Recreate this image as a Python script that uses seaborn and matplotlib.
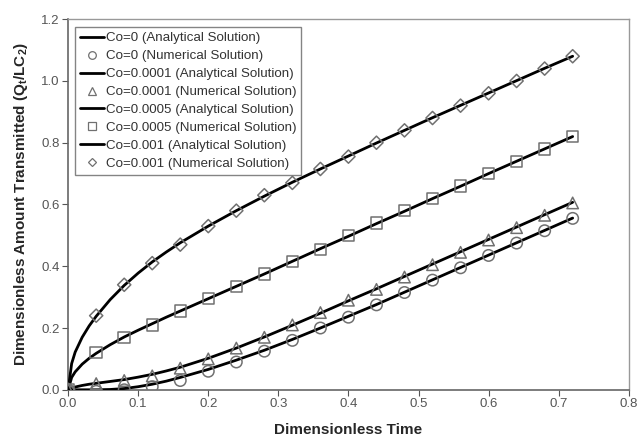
import numpy as np
import pandas as pd
import matplotlib
matplotlib.use("Agg")
import matplotlib.pyplot as plt
import seaborn as sns

# ---- data ----
t_num = [0.0, 0.04, 0.08, 0.12, 0.16, 0.20, 0.24, 0.28, 0.32, 0.36,
         0.40, 0.44, 0.48, 0.52, 0.56, 0.60, 0.64, 0.68, 0.72]
num_co0 = [0.0, -0.005, 0.0, 0.01, 0.03, 0.06, 0.09, 0.125, 0.16, 0.20,
           0.235, 0.275, 0.315, 0.355, 0.395, 0.435, 0.475, 0.515, 0.555]
num_co1e4 = [0.0, 0.02, 0.03, 0.045, 0.07, 0.10, 0.135, 0.17, 0.21, 0.25,
             0.29, 0.325, 0.365, 0.405, 0.445, 0.485, 0.525, 0.565, 0.605]
num_co5e4 = [0.0, 0.12, 0.17, 0.21, 0.255, 0.295, 0.335, 0.375, 0.415, 0.455,
             0.50, 0.54, 0.58, 0.62, 0.66, 0.70, 0.74, 0.78, 0.82]
num_co1e3 = [0.0, 0.24, 0.34, 0.41, 0.47, 0.53, 0.58, 0.63, 0.67, 0.715,
             0.755, 0.80, 0.84, 0.88, 0.92, 0.96, 1.00, 1.04, 1.08]

t_ana = [0.0, 0.005, 0.01, 0.02, 0.03, 0.04, 0.06, 0.08, 0.10, 0.12, 0.14, 0.16,
         0.20, 0.24, 0.28, 0.32, 0.36, 0.40, 0.44, 0.48, 0.52, 0.56,
         0.60, 0.64, 0.68, 0.72]
ana_co0 = [0.0, 0.0, 0.0, 0.0, 0.0, 0.0, 0.001, 0.004, 0.010, 0.018, 0.028, 0.040,
           0.066, 0.096, 0.128, 0.163, 0.200, 0.238, 0.276, 0.316, 0.356, 0.396,
           0.436, 0.476, 0.516, 0.556]
ana_co1e4 = [0.0, 0.005, 0.009, 0.014, 0.018, 0.021, 0.027, 0.033, 0.041, 0.050, 0.061, 0.073,
             0.102, 0.135, 0.171, 0.209, 0.248, 0.288, 0.327, 0.367, 0.407, 0.447,
             0.487, 0.527, 0.567, 0.607]
ana_co5e4 = [0.0, 0.040, 0.058, 0.083, 0.102, 0.118, 0.146, 0.171, 0.193, 0.214, 0.235, 0.255,
             0.295, 0.335, 0.375, 0.416, 0.457, 0.497, 0.538, 0.578, 0.619, 0.659,
             0.700, 0.740, 0.780, 0.820]
ana_co1e3 = [0.0, 0.085, 0.122, 0.170, 0.207, 0.238, 0.292, 0.338, 0.378, 0.414, 0.446, 0.476,
             0.530, 0.580, 0.627, 0.672, 0.715, 0.757, 0.799, 0.840, 0.881, 0.921,
             0.961, 1.001, 1.041, 1.080]

labels = ["Co=0", "Co=0.0001", "Co=0.0005", "Co=0.001"]
num_series = [num_co0, num_co1e4, num_co5e4, num_co1e3]
ana_series = [ana_co0, ana_co1e4, ana_co5e4, ana_co1e3]
markers = ["o", "^", "s", "D"]
msizes = [68, 68, 68, 45]

x_ticks = [0.0, 0.1, 0.2, 0.3, 0.4, 0.5, 0.6, 0.7, 0.8]
y_ticks = [0.0, 0.2, 0.4, 0.6, 0.8, 1.0, 1.2]

# ---- style ----
sns.set_style("ticks")
plt.rcParams["font.family"] = ["Liberation Sans", "DejaVu Sans"]
plt.rcParams["mathtext.fontset"] = "custom"
plt.rcParams["mathtext.rm"] = "Liberation Sans"
plt.rcParams["mathtext.bf"] = "Liberation Sans:bold"

fig = plt.figure(figsize=(6.37, 4.36), dpi=100)
ax = fig.add_axes([0.107, 0.106, 0.880, 0.850])

ana_df = pd.concat([pd.DataFrame({"t": t_ana, "q": v, "series": lab})
                    for lab, v in zip(labels, ana_series)])
num_df = pd.concat([pd.DataFrame({"t": t_num, "q": v, "series": lab})
                    for lab, v in zip(labels, num_series)])

handles = []
names = []
for lab, mk, ms in zip(labels, markers, msizes):
    sub_a = ana_df[ana_df["series"] == lab]
    sub_n = num_df[num_df["series"] == lab]
    sns.lineplot(data=sub_a, x="t", y="q", ax=ax, color="black", lw=2.0,
                 sort=False, estimator=None, zorder=3)
    handles.append(ax.lines[-1])
    names.append(f"{lab} (Analytical Solution)")
    sns.scatterplot(data=sub_n, x="t", y="q", ax=ax, marker=mk, s=ms,
                    facecolor="none", edgecolor="#707070", linewidth=1.1, zorder=4)
    hm = plt.Line2D([], [], ls="none", marker=mk, markersize=5.5 if mk != "D" else 4.5,
                    markerfacecolor="none", markeredgecolor="#707070", markeredgewidth=0.9)
    handles.append(hm)
    names.append(f"{lab} (Numerical Solution)")

ax.set_xlim(0, 0.8)
ax.set_ylim(0, 1.2)
ax.set_xticks(x_ticks)
ax.set_yticks(y_ticks)
ax.set_xticklabels([f"{v:.1f}" for v in x_ticks], color="#555555", fontsize=9.5)
ax.set_yticklabels([f"{v:.1f}" for v in y_ticks], color="#555555", fontsize=9.5)
ax.tick_params(direction="out", length=4, width=0.8, color="#555555", pad=2)

for side in ["top", "right"]:
    ax.spines[side].set_visible(True)
    ax.spines[side].set_color("#999999")
    ax.spines[side].set_linewidth(1.0)
for side in ["left", "bottom"]:
    ax.spines[side].set_color("#666666")
    ax.spines[side].set_linewidth(1.2)

ax.set_xlabel("Dimensionless Time", fontsize=11, fontweight="bold", labelpad=9)
ax.set_ylabel(r"Dimensionless Amount Transmitted (Q$_{\mathbf{t}}$/LC$_{\mathbf{2}}$)",
              fontsize=11, fontweight="bold", labelpad=8)

leg = ax.legend(handles, names, loc="upper left", bbox_to_anchor=(0.008, 0.985),
                fontsize=9.6, frameon=True, fancybox=False, handlelength=1.8,
                handletextpad=0.15, borderpad=0.35, labelspacing=0.42,
                borderaxespad=0.2)
leg.get_frame().set_edgecolor("#666666")
leg.get_frame().set_linewidth(1.0)
for txt in leg.get_texts():
    txt.set_color("#333333")

fig.savefig("out.png", dpi=100)
